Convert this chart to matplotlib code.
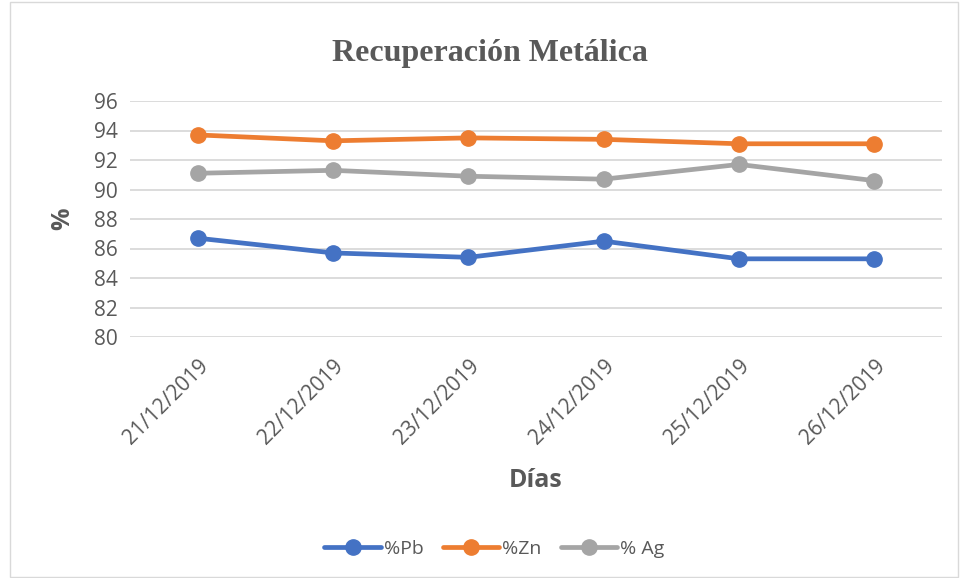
import numpy as np
import matplotlib.pyplot as plt
from matplotlib.patches import Rectangle
from matplotlib.transforms import ScaledTranslation

dias = ['21/12/2019', '22/12/2019', '23/12/2019', '24/12/2019', '25/12/2019', '26/12/2019']
pb = [86.7, 85.7, 85.4, 86.5, 85.3, 85.3]
zn = [93.7, 93.3, 93.5, 93.4, 93.1, 93.1]
ag = [91.1, 91.3, 90.9, 90.7, 91.7, 90.6]
yticks = [80, 82, 84, 86, 88, 90, 92, 94, 96]

plt.rcParams['font.family'] = ['Open Sans', 'DejaVu Sans']

fig = plt.figure(figsize=(9.6, 5.78), dpi=100)
ax = fig.add_axes([130 / 960, 1 - 337 / 578, 812 / 960, 236 / 578])

x = np.arange(len(dias))
series = [(pb, '%Pb', '#4472C4'), (zn, '%Zn', '#ED7D31'), (ag, '% Ag', '#A5A5A5')]
for vals, name, col in series:
    ax.plot(x, vals, '-o', color=col, lw=3.4, ms=11, label=name, solid_capstyle='round')

ax.set_xlim(-0.5, len(dias) - 0.5)
ax.set_ylim(80, 96)
ax.set_yticks(yticks)
ax.set_xticks(x)
ax.set_xticklabels(dias, rotation=45, ha='right', rotation_mode='anchor')
shift = ScaledTranslation(-6 / 100, 0, fig.dpi_scale_trans)
for lab in ax.get_xticklabels():
    lab.set_transform(lab.get_transform() + shift)
ax.grid(axis='y', color='#D9D9D9', lw=1.3)
ax.set_axisbelow(True)
ax.tick_params(axis='both', length=0, labelsize=15, colors='#595959', pad=9)
ax.tick_params(axis='x', pad=13)
for s in ax.spines.values():
    s.set_visible(False)

ax.set_xlabel('Días', fontsize=18, fontweight='bold', color='#595959', labelpad=14)
ax.set_ylabel('%', fontsize=18, fontweight='bold', color='#595959', labelpad=13)

fig.text(0.51, 1 - 53 / 578, 'Recuperación Metálica', ha='center', va='center',
         fontsize=23, fontweight='bold', color='#595959', family='Liberation Serif')

fig.legend(loc='center', bbox_to_anchor=(0.515, 1 - 549 / 578), ncol=3, frameon=False,
           fontsize=14, labelcolor='#595959', handlelength=2.9, columnspacing=1.0, handletextpad=0.15)

fig.patches.append(Rectangle((10 / 960, 0.002), 948 / 960, 0.994, transform=fig.transFigure,
                             fill=False, edgecolor='#D9D9D9', lw=1))

plt.savefig('out.png')
